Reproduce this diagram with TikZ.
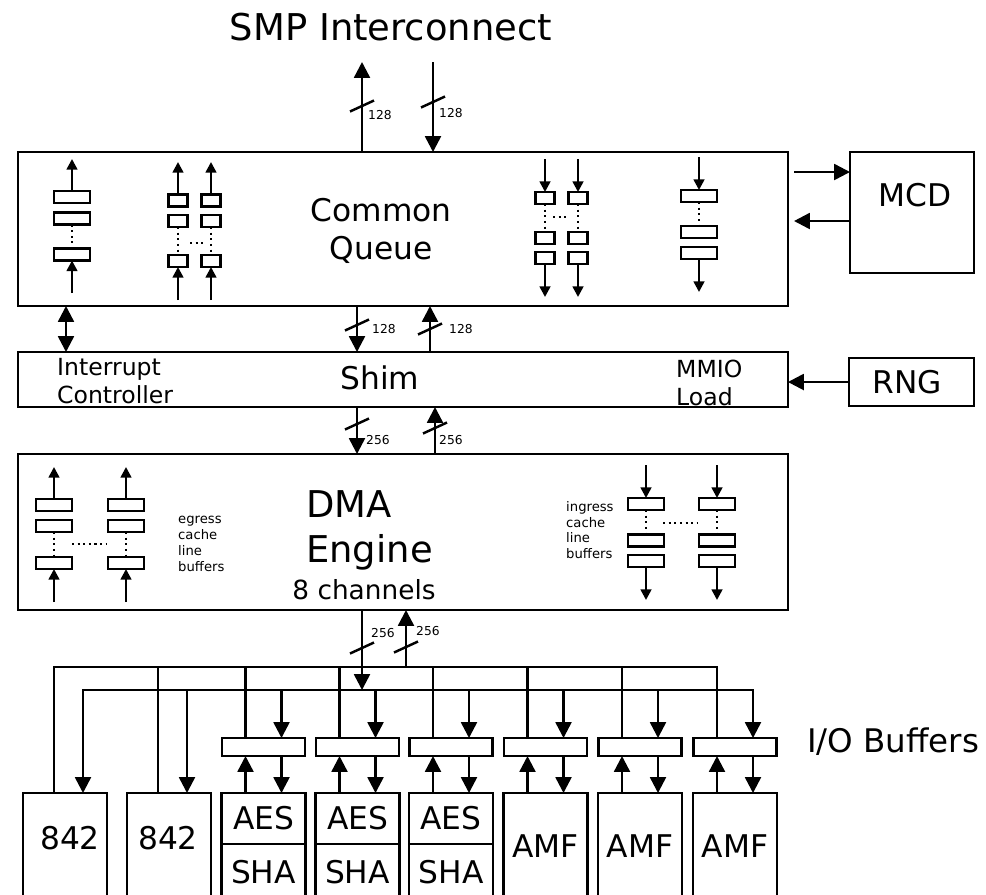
\documentclass[tikz,border=0pt]{standalone}
\usepackage{fontspec}
\setmainfont{DejaVu Sans}
\usetikzlibrary{arrows.meta}

\begin{document}
\begin{tikzpicture}[
  x=0.02cm, y=-0.02cm, line width=1.4pt,
  block/.style={rectangle, draw, inner sep=0pt, outer sep=0pt},
  engine/.style={block, minimum width=1.68cm, anchor=north, font=\fontsize{17.8}{21.4}\selectfont},
  iobuf/.style={block, minimum width=1.66cm, minimum height=0.36cm},
  wslot/.style={block, line width=1.3pt, minimum width=0.72cm, minimum height=0.24cm},
  nslot/.style={block, line width=1.3pt, minimum width=0.38cm, minimum height=0.24cm},
  bigarrow/.style={-{Triangle[length=9pt,width=9pt]}},
  smallarrow/.style={-{Triangle[length=6pt,width=6pt]}},
  bothways/.style={<->, >={Triangle[length=9pt,width=9pt]}},
  dotline/.style={line width=1.2pt, dash pattern=on 1.2pt off 2pt},
  hugetext/.style={font=\fontsize{21}{25.5}\selectfont},
  bigtext/.style={font=\fontsize{17.8}{21.4}\selectfont},
  midtext/.style={font=\fontsize{13.4}{16}\selectfont, align=left, anchor=west, inner sep=0pt},
  smalltext/.style={font=\fontsize{7.5}{9}\selectfont, align=left, anchor=west, inner sep=0pt},
  buslabel/.style={font=\fontsize{7}{8}\selectfont, anchor=west, inner sep=0pt}
]
\useasboundingbox (0,0) rectangle (986,894);
\fill[white] (0,0) rectangle (986,894);

\node[hugetext] (smp) at (391,27) {SMP Interconnect};

\node[block, minimum width=15.4cm, minimum height=3.08cm] (cq) at (403,229) {};
\node[bigtext, align=center] (cqlabel) at (381,231) {Common\\Queue};
\node[block, minimum width=2.48cm, minimum height=2.42cm] (mcd) at (912,212.5) {};
\node[bigtext] (mcdlabel) at (915,195) {MCD};
\node[block, minimum width=15.4cm, minimum height=1.1cm] (shim) at (403,379.5) {};
\node[bigtext] (shimlabel) at (380,378) {Shim};
\node[midtext] (intc) at (56,381) {Interrupt\\Controller};
\node[midtext] (mmio) at (675,383) {MMIO\\Load};
\node[block, minimum width=2.5cm, minimum height=0.96cm] (rng) at (911.5,382) {};
\node[bigtext] (rnglabel) at (907,382) {RNG};
\node[block, minimum width=15.4cm, minimum height=3.12cm] (dma) at (403,532) {};
\node[hugetext, align=left, anchor=west, inner sep=0pt] (dmalabel) at (305,530) {DMA\\Engine};
\node[font=\fontsize{15}{18}\selectfont] (chan) at (364,590) {8 channels};

\foreach \n/\ax/\ay/\lx/\ly/\w in {1/362/106/367/115/128, 2/433/102/438/113/128,
    3/357/325/371/329/128, 4/430/329/448/329/128, 5/357/424/365/440/256,
    6/435/428/438/440/256, 7/362/648/370/633/256, 8/406/647/415/631/256} {
  \coordinate (mark\n) at (\ax,\ay);
  \draw ([shift={(-12,5.5)}]mark\n) -- ([shift={(12,-5.5)}]mark\n);
  \node[buslabel] (bw\n) at (\lx,\ly) {\w};
}

\coordinate (smpout) at (362,62);
\coordinate (smpin) at (433,62);
\draw[bigarrow] (smpout |- cq.north) -- (smpout);
\draw[bigarrow] (smpin) -- (smpin |- cq.north);
\draw[bigarrow] (cq.south -| mark3) -- (shim.north -| mark3);
\draw[bigarrow] (shim.north -| mark4) -- (cq.south -| mark4);
\draw[bigarrow] (shim.south -| mark5) -- (dma.north -| mark5);
\draw[bigarrow] (dma.north -| mark6) -- (shim.south -| mark6);

\coordinate (irq) at (66,330);
\draw[bothways] (cq.south -| irq) -- (shim.north -| irq);
\coordinate (mcdout) at (794,172);
\coordinate (mcdin) at (794,221);
\draw[bigarrow] (mcdout) -- (mcdout -| mcd.west);
\draw[bigarrow] (mcdin -| mcd.west) -- (mcdin);
\draw[bigarrow] (rng.west) -- (rng.west -| shim.east);

\node[wslot] (qa1) at (72,197) {};
\node[wslot] (qa2) at (72,218.5) {};
\node[wslot] (qa3) at (72,254.5) {};
\coordinate (qaout) at (72,159);
\coordinate (qain) at (72,293);
\draw[dotline] (qa2) -- (qa3);
\draw[smallarrow] (qa1) -- (qaout);
\draw[smallarrow] (qain) -- (qa3);

\foreach \c/\x in {1/178,2/211} {
  \node[nslot] (qbt\c) at (\x,200.5) {};
  \node[nslot] (qbm\c) at (\x,221) {};
  \node[nslot] (qbb\c) at (\x,261) {};
  \coordinate (qbout\c) at (\x,162);
  \coordinate (qbin\c) at (\x,300);
  \draw[dotline] (qbm\c) -- (qbb\c);
  \draw[smallarrow] (qbt\c) -- (qbout\c);
  \draw[smallarrow] (qbin\c) -- (qbb\c);
}
\draw[dotline] (190,243) -- (203,243);

\foreach \c/\x in {1/545,2/578} {
  \node[nslot] (qct\c) at (\x,198) {};
  \node[nslot] (qcm\c) at (\x,238) {};
  \node[nslot] (qcb\c) at (\x,258) {};
  \coordinate (qcin\c) at (\x,159);
  \coordinate (qcout\c) at (\x,297);
  \draw[dotline] (qct\c) -- (qcm\c);
  \draw[smallarrow] (qcin\c) -- (qct\c);
  \draw[smallarrow] (qcb\c) -- (qcout\c);
}
\draw[dotline] (553,217) -- (566,217);

\node[wslot] (qdt) at (699,196) {};
\node[wslot] (qdm) at (699,232) {};
\node[wslot] (qdb) at (699,253) {};
\coordinate (qdin) at (699,157);
\coordinate (qdout) at (699,292);
\draw[dotline] (qdt) -- (qdm);
\draw[smallarrow] (qdin) -- (qdt);
\draw[smallarrow] (qdb) -- (qdout);

\foreach \c/\x in {1/54,2/126} {
  \node[wslot] (egt\c) at (\x,505) {};
  \node[wslot] (egm\c) at (\x,526) {};
  \node[wslot] (egb\c) at (\x,563) {};
  \coordinate (egout\c) at (\x,467);
  \coordinate (egin\c) at (\x,602);
  \draw[dotline] (egm\c) -- (egb\c);
  \draw[smallarrow] (egt\c) -- (egout\c);
  \draw[smallarrow] (egin\c) -- (egb\c);
}
\draw[dotline] (72,544) -- (106,544);
\node[smalltext] (egtext) at (177,544) {egress\\cache\\line\\buffers};

\foreach \c/\x in {1/646,2/717} {
  \node[wslot] (igt\c) at (\x,504) {};
  \node[wslot] (igm\c) at (\x,540.5) {};
  \node[wslot] (igb\c) at (\x,561) {};
  \coordinate (igin\c) at (\x,465);
  \coordinate (igout\c) at (\x,600);
  \draw[dotline] (igt\c) -- (igm\c);
  \draw[smallarrow] (igin\c) -- (igt\c);
  \draw[smallarrow] (igb\c) -- (igout\c);
}
\draw[dotline] (663,523) -- (697,523);
\node[smalltext] (igtext) at (565,530) {ingress\\cache\\line\\buffers};

\coordinate (ubus) at (0,667);
\coordinate (lbus) at (0,690);
\draw[bigarrow] (dma.south -| mark7) -- (mark7 |- lbus);
\draw[bigarrow] (mark8 |- ubus) -- (dma.south -| mark8);

\foreach \n/\cx in {a/65,b/169} {
  \node[engine, minimum height=2.14cm] (c842\n) at (\cx,793) {};
  \path (c842\n.north) ++(-11,0) coordinate (up842\n) ++(29,0) coordinate (dn842\n);
  \draw (up842\n |- ubus) -- (up842\n |- c842\n.north);
  \draw[bigarrow] (dn842\n |- lbus) -- (dn842\n |- c842\n.north);
}
\node[bigtext] (n842a) at (70,838) {842};
\node[bigtext] (n842b) at (168,838) {842};

\foreach \i/\cx in {1/263.5,2/357.5,3/451} {
  \node[engine, minimum height=1.02cm, alias=unit\i] (aes\i) at (\cx,793) {AES};
  \node[engine, minimum height=1.12cm] (sha\i) at (aes\i.south) {SHA};
}
\foreach \i/\cx in {4/545.5,5/640,6/735}
  \node[engine, minimum height=2.14cm, alias=unit\i] (amf\i) at (\cx,793) {AMF};

\foreach \i/\cx in {1/263.5,2/357.5,3/451,4/545.5,5/640,6/735} {
  \node[iobuf] (buf\i) at (\cx,747) {};
  \path (buf\i) ++(-18,0) coordinate (up\i) ++(36,0) coordinate (dn\i);
  \draw (up\i |- ubus) -- (up\i |- buf\i.north);
  \draw[bigarrow] (dn\i |- lbus) -- (dn\i |- buf\i.north);
  \draw[bigarrow] (up\i |- unit\i.north) -- (up\i |- buf\i.south);
  \draw[bigarrow] (dn\i |- buf\i.south) -- (dn\i |- unit\i.north);
}
\draw[line cap=rect] (up842a |- ubus) -- (up6 |- ubus);
\draw[line cap=rect] (dn842a |- lbus) -- (dn6 |- lbus);
\node[font=\fontsize{18.5}{22}\selectfont, anchor=west, inner sep=0pt] (iolabel) at (806,742) {I/O Buffers};
\end{tikzpicture}
\end{document}
